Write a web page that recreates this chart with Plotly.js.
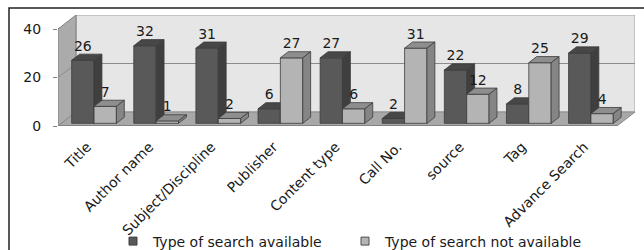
<!DOCTYPE html>
<html><head><meta charset="utf-8">
<script src="https://cdn.plot.ly/plotly-3.0.1.min.js"></script>
<style>html,body{margin:0;padding:0;background:#fff}#chart{width:644px;height:250px}</style>
</head><body><div id="chart"></div>
<script>
// ---- data ----
const categories = ["Title","Author name","Subject/Discipline","Publisher","Content type","Call No.","source","Tag","Advance Search"];
const available = [26,32,31,6,27,2,22,8,29];
const notAvailable = [7,1,2,27,6,31,12,25,4];
const seriesNames = ["Type of search available","Type of search not available"];
const yTicks = [0,20,40];

// ---- geometry (pseudo-3D) ----
const PLOT_W = 577, PLOT_H = 111;
const X_MIN = -0.5, X_FRONT_MAX = 8.5;
const PX_PER_X = 62.11, PX_PER_Y = 2.425;
const DX = 18 / PX_PER_X, DY = 14 / PX_PER_Y;   // floor depth in data units
const F0 = 0.19, BD = 0.44;                      // bar front depth / bar depth (fractions)
const W = 0.36, C = 0.025;                       // bar width, group offset
const FONT = "DejaVu Sans";

function addPoly(obj, pts){ pts.forEach(p=>{obj.x.push(p[0]); obj.y.push(p[1]);}); obj.x.push(null); obj.y.push(null); }

function faces(vals, off){
  const front={x:[],y:[]}, top={x:[],y:[]}, side={x:[],y:[]}, lab={x:[],y:[],t:[]};
  const ddx = BD*DX, ddy = BD*DY;
  vals.forEach((v,i)=>{
    const x0 = i + off + F0*DX, x1 = x0 + W, y0 = F0*DY, y1 = v + F0*DY;
    addPoly(front, [[x0,y0],[x1,y0],[x1,y1],[x0,y1],[x0,y0]]);
    addPoly(top,   [[x0,y1],[x1,y1],[x1+ddx,y1+ddy],[x0+ddx,y1+ddy],[x0,y1]]);
    addPoly(side,  [[x1,y0],[x1+ddx,y0+ddy],[x1+ddx,y1+ddy],[x1,y1],[x1,y0]]);
    lab.x.push((x0+x1)/2); lab.y.push(y1+ddy); lab.t.push(String(v));
  });
  return {front, top, side, lab};
}

const darkF = faces(available, C - W);
const lightF = faces(notAvailable, C);
const edge = {color:'#3c3c3c', width:0.8};
function poly(o, fill){ return {type:'scatter', mode:'lines', x:o.x, y:o.y, fill:'toself', fillcolor:fill, line:edge, showlegend:false, hoverinfo:'skip', connectgaps:false}; }
function labels(o){ return {type:'scatter', mode:'text', x:o.x, y:o.y, text:o.t, textposition:'top center', textfont:{family:FONT, size:14, color:'#1a1a1a'}, showlegend:false, hoverinfo:'skip', cliponaxis:false}; }

const traces = [
  poly(darkF.front, '#595959'), poly(darkF.top, '#474747'), poly(darkF.side, '#3f3f3f'),
  poly(lightF.front, '#b4b4b4'), poly(lightF.top, '#8e8e8e'), poly(lightF.side, '#858585'),
  labels(darkF.lab), labels(lightF.lab),
  {type:'scatter', mode:'markers', x:[null], y:[null], name:seriesNames[0], legendwidth:187, marker:{symbol:'square', size:8, color:'#595959', line:{color:'#404040', width:1}}, showlegend:true},
  {type:'scatter', mode:'markers', x:[null], y:[null], name:seriesNames[1], legendwidth:210, marker:{symbol:'square', size:8, color:'#b4b4b4', line:{color:'#505050', width:1}}, showlegend:true}
];

const xb = X_MIN + DX, xe = X_FRONT_MAX + DX;
const shapes = [
  {type:'path', layer:'below', xref:'x', yref:'y', path:`M${xb},${DY} L${xe},${DY} L${xe},${40+DY} L${xb},${40+DY} Z`, fillcolor:'#e6e6e6', line:{color:'#a0a0a0', width:1}},
  {type:'path', layer:'below', xref:'x', yref:'y', path:`M${X_MIN},0 L${X_MIN},40 L${xb},${40+DY} L${xb},${DY} Z`, fillcolor:'#ababab', line:{color:'#808080', width:1}},
  {type:'path', layer:'below', xref:'x', yref:'y', path:`M${X_MIN},0 L${X_FRONT_MAX},0 L${xe},${DY} L${xb},${DY} Z`, fillcolor:'#a8a8a8', line:{color:'#8c8c8c', width:1}},
  {type:'line', layer:'below', xref:'x', yref:'y', x0:xb, x1:xe, y0:20+DY, y1:20+DY, line:{color:'#8c8c8c', width:1}},
  {type:'line', layer:'below', xref:'x', yref:'y', x0:X_MIN, x1:xb, y0:20, y1:20+DY, line:{color:'#8c8c8c', width:1}},
  {type:'line', layer:'below', xref:'x', yref:'y', x0:X_MIN, x1:X_FRONT_MAX, y0:0, y1:0, line:{color:'#7a7a7a', width:1.5}},
  // outer chart border
  {type:'rect', xref:'paper', yref:'paper', x0:(9-58)/PLOT_W, x1:(660-58)/PLOT_W, y0:(126-270)/PLOT_H, y1:(126-8)/PLOT_H, line:{color:'#222', width:1.5}, fillcolor:'rgba(0,0,0,0)'}
];

const layout = {
  width:644, height:250,
  margin:{l:58, r:9, t:15, b:124, autoexpand:false},
  paper_bgcolor:'#fff', plot_bgcolor:'rgba(0,0,0,0)',
  font:{family:FONT, size:14, color:'#1a1a1a'},
  showlegend:true,
  legend:{orientation:'h', x:(113-58)/PLOT_W, xanchor:'left', y:(126-241.5)/PLOT_H, yanchor:'middle', font:{family:FONT, size:14, color:'#1a1a1a'}, bgcolor:'rgba(0,0,0,0)'},
  xaxis:{type:'linear', range:[X_MIN, xe], tickvals:categories.map((c,i)=>i - 0.03), ticktext:categories, tickangle:-45, showgrid:false, zeroline:false, showline:false, ticks:'', ticklabelstandoff:9, tickfont:{family:FONT, size:14, color:'#1a1a1a'}, fixedrange:true},
  yaxis:{range:[0, 40+DY], tickvals:yTicks, ticks:'outside', ticklen:4, tickcolor:'#808080', ticklabelstandoff:9, showgrid:false, zeroline:false, showline:false, tickfont:{family:FONT, size:14, color:'#1a1a1a'}, fixedrange:true},
  shapes:shapes
};

Plotly.newPlot('chart', traces, layout, {staticPlot:true, displayModeBar:false});
</script>
</body></html>
